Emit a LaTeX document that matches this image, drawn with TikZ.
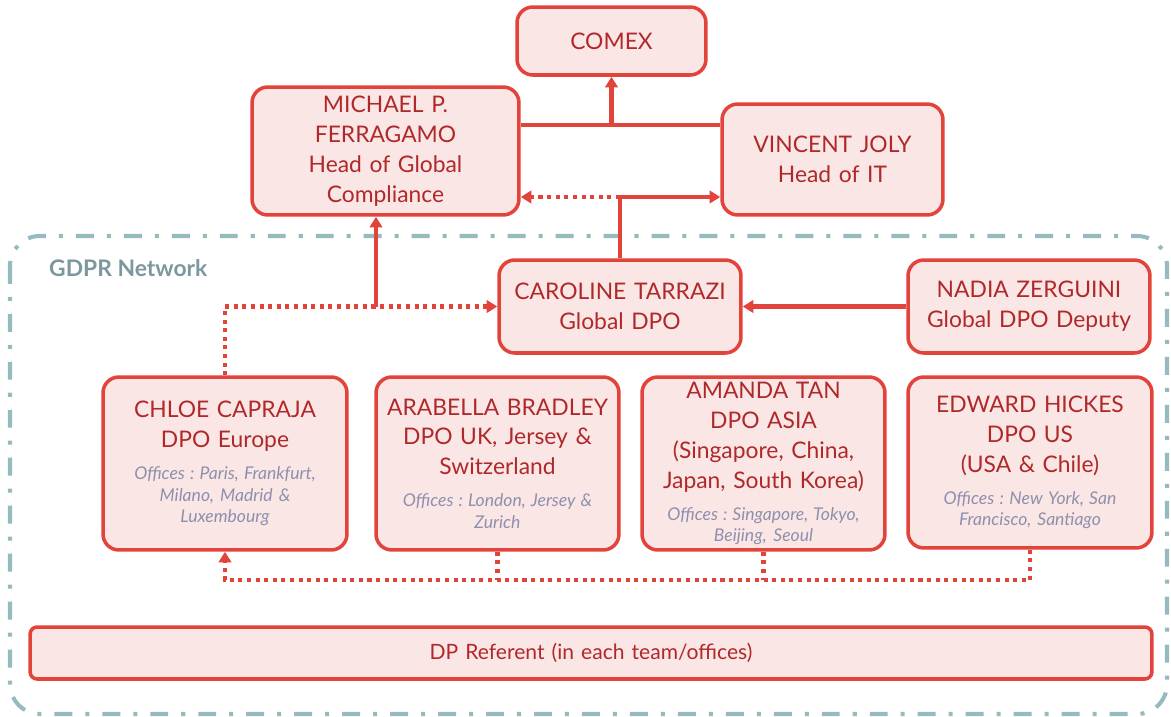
\documentclass[tikz,border=0pt]{standalone}
\usepackage{fontspec}
\setmainfont{Lato}
\usetikzlibrary{arrows.meta}

\definecolor{boxred}{HTML}{E2433A}
\definecolor{boxfill}{HTML}{FBE6E6}
\definecolor{namered}{HTML}{B0292A}
\definecolor{officegrey}{HTML}{8D90AC}
\definecolor{netgrey}{HTML}{95BABF}
\definecolor{netlabel}{HTML}{7B989E}

\tikzset{
	person/.style={draw=boxred, fill=boxfill, line width=2pt,
		rounded corners=9pt, text=namered, align=center, inner sep=0pt,
		text width=4.6cm, font=\fontsize{13}{17}\selectfont},
	link/.style={draw=boxred, line width=2.3pt},
	linkarrow/.style={link, -{Triangle[length=6pt,width=7pt]}},
	dotlink/.style={draw=boxred, line width=2.3pt, dash pattern=on 2.3pt off 2.6pt},
	dotarrow/.style={dotlink, -{Triangle[length=6pt,width=7pt]}},
}
\newcommand{\officelist}[1]{\par\vspace{6pt}{\itshape\color{officegrey}\fontsize{10}{12.2}\selectfont
	\spaceskip=0.24em plus 0.1em #1\par}}

\begin{document}
\frenchspacing
\begin{tikzpicture}[x=0.02cm, y=-0.02cm]
	\useasboundingbox (0,0) rectangle (1171,717);
	% GDPR network frame
	\draw[netgrey, line width=2.3pt, rounded corners=17pt,
		dash pattern=on 10.2pt off 7.4pt on 2.3pt off 7.4pt]
		(10,236) rectangle (1167,714);
	\node[anchor=west, text=netlabel, font=\bfseries\fontsize{13}{15}\selectfont]
		(network) at (43,268) {GDPR Network};

	\node[person, text width=3.5cm, minimum width=3.78cm, minimum height=1.36cm] (comex) at (611.5,41) {COMEX};
	\node[person, minimum width=5.34cm, minimum height=2.56cm] (ferragamo) at (385.5,151)
		{MICHAEL P.\\FERRAGAMO\\Head of Global\\Compliance};
	\node[person, text width=4.2cm, minimum width=4.42cm, minimum height=2.22cm] (joly) at (832.5,159.5)
		{VINCENT JOLY\\Head of IT};
	\node[person, minimum width=4.84cm, minimum height=1.86cm] (tarrazi) at (620,306.5)
		{CAROLINE TARRAZI\\Global DPO};
	\node[person, minimum width=4.84cm, minimum height=1.86cm] (zerguini) at (1029,306.5)
		{NADIA ZERGUINI\\Global DPO Deputy};

	\node[person, minimum width=4.88cm, minimum height=3.46cm] (capraja) at (225,463.5)
		{CHLOE CAPRAJA\\DPO Europe
		\officelist{Offices : Paris, Frankfurt,\\Milano, Madrid \&\\Luxembourg}};
	\node[person, minimum width=4.86cm, minimum height=3.46cm] (bradley) at (497.5,463.5)
		{ARABELLA BRADLEY\\DPO UK, Jersey \&\\Switzerland
		\officelist{Offices : London, Jersey \&\\Zurich}};
	\node[person, minimum width=4.86cm, minimum height=3.46cm] (tan) at (763.5,463.5)
		{AMANDA TAN\\DPO ASIA\\(Singapore, China,\\Japan, South Korea)
		\officelist{Offices : Singapore, Tokyo,\\Beijing, Seoul}};
	\node[person, minimum width=4.88cm, minimum height=3.42cm] (hickes) at (1030,462.5)
		{EDWARD HICKES\\DPO US\\(USA \& Chile)
		\officelist{Offices : New York, San\\Francisco, Santiago}};

	\node[person, rounded corners=4pt, text width=22cm, minimum width=22.44cm, minimum height=1.04cm,
		font=\fontsize{12}{14}\selectfont] (referent) at (591,653)
		{DP Referent (in each team/offices)};

	% top links
	\coordinate (comexlink) at (611.5,125);
	\coordinate (itlink) at (620,197);
	\coordinate (uplink) at (376,306.5);
	\coordinate (bus) at (0,580);
	\draw[link] (ferragamo.east |- comexlink) -- (joly.west |- comexlink);
	\draw[linkarrow] (comexlink) -- (comexlink |- comex.south);
	\draw[linkarrow] (tarrazi.north) -- (itlink) -- (itlink -| joly.west);
	\draw[dotarrow] (itlink) -- (itlink -| ferragamo.east);
	\draw[linkarrow] (zerguini.west) -- (tarrazi.east);

	% europe to global dpo
	\draw[dotarrow] (capraja.north) |- (tarrazi.west);
	\draw[linkarrow] (uplink) -- (uplink |- ferragamo.south);

	% bottom dotted bus
	\draw[dotarrow] (hickes.south) -- (hickes.south |- bus) -- (capraja.south |- bus) -- (capraja.south);
	\draw[dotlink] (bradley.south) -- (bradley.south |- bus);
	\draw[dotlink] (tan.south) -- (tan.south |- bus);
\end{tikzpicture}
\end{document}
